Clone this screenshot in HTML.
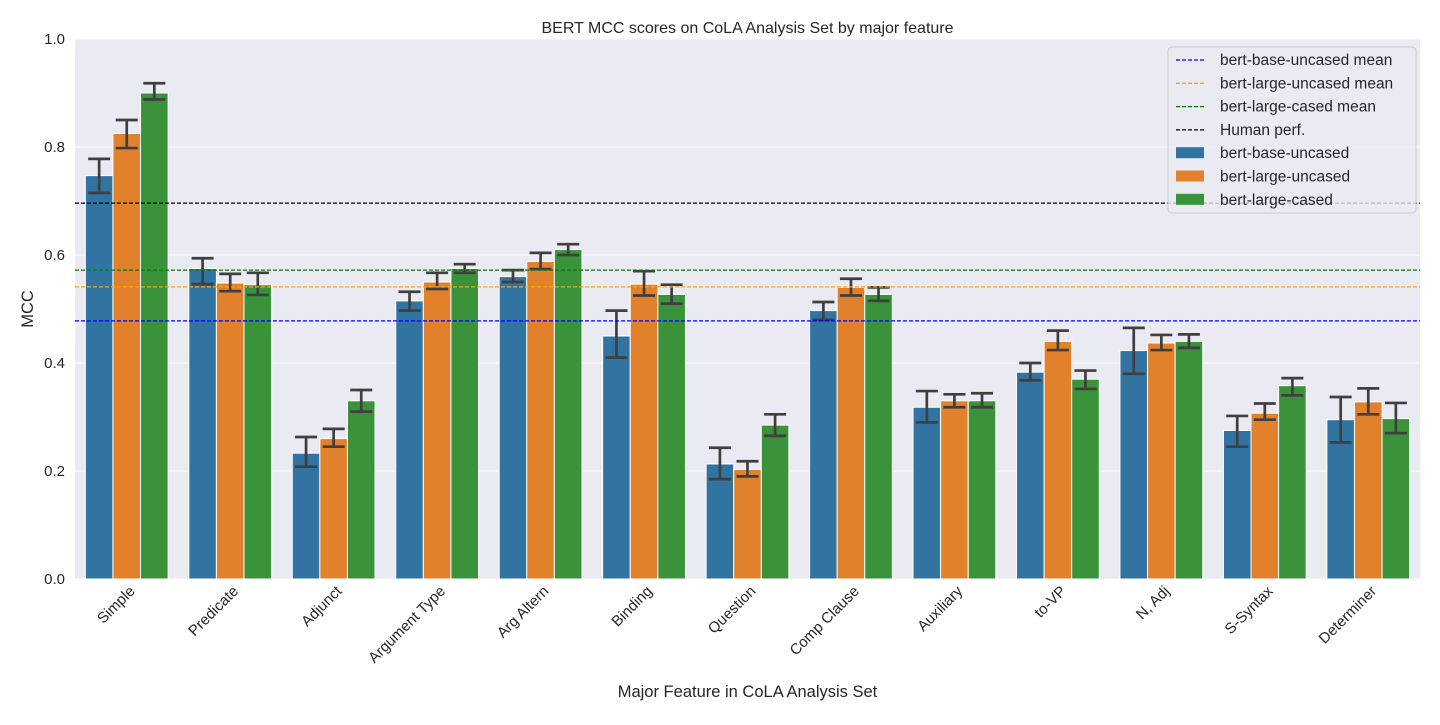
<!DOCTYPE html>
<html><head><meta charset="utf-8"><style>
body{margin:0;background:#fff;font-family:"Liberation Sans","DejaVu Sans",sans-serif;}
svg text{font-family:"Liberation Sans","DejaVu Sans",sans-serif;}
</style></head><body>
<svg id="chart" width="1440" height="720"></svg>
<script>
const categories=["Simple","Predicate","Adjunct","Argument Type","Arg Altern","Binding","Question","Comp Clause","Auxiliary","to-VP","N, Adj","S-Syntax","Determiner"];
const seriesNames=["bert-base-uncased","bert-large-uncased","bert-large-cased"];
const baseVals=[0.747,0.575,0.233,0.515,0.560,0.450,0.213,0.497,0.318,0.383,0.423,0.275,0.295];
const largeUncVals=[0.825,0.548,0.260,0.550,0.588,0.546,0.203,0.540,0.330,0.440,0.437,0.307,0.328];
const largeCasVals=[0.900,0.545,0.330,0.575,0.610,0.527,0.285,0.527,0.330,0.370,0.440,0.358,0.297];
const baseLo=[0.715,0.546,0.208,0.497,0.550,0.410,0.185,0.480,0.290,0.368,0.380,0.245,0.253];
const baseHi=[0.778,0.594,0.263,0.532,0.572,0.497,0.243,0.513,0.348,0.400,0.465,0.302,0.337];
const lucLo=[0.798,0.533,0.245,0.537,0.574,0.525,0.190,0.525,0.318,0.424,0.424,0.295,0.305];
const lucHi=[0.850,0.565,0.278,0.567,0.604,0.570,0.218,0.556,0.342,0.460,0.452,0.325,0.353];
const lcLo=[0.888,0.526,0.310,0.567,0.600,0.510,0.265,0.515,0.318,0.352,0.428,0.340,0.270];
const lcHi=[0.918,0.567,0.350,0.583,0.620,0.545,0.305,0.540,0.344,0.386,0.453,0.372,0.326];
const meanVals=[0.478,0.541,0.572,0.696];
const meanNames=["bert-base-uncased mean","bert-large-uncased mean","bert-large-cased mean","Human perf."];
const yTicks=[0.0,0.2,0.4,0.6,0.8,1.0];

const NS="http://www.w3.org/2000/svg";
const svg=document.getElementById('chart');
const L=75,R=1420,T=39,B=579;
const colors=["#3274a1","#e1812c","#3a923a"];
const meanColors=["blue","orange","green","black"];
function y(v){return B-(v-0)/(1.0-0)*(B-T);}
const band=(R-L)/categories.length;
function xc(i){return L+band*(i+0.5);}
function mk(tag,attrs,parent){const e=document.createElementNS(NS,tag);for(const k in attrs)e.setAttribute(k,attrs[k]);(parent||svg).appendChild(e);return e;}

let e=mk('rect',{x:L,y:T,width:R-L,height:B-T,fill:'#eaeaf2'});


yTicks.forEach(t=>{
  let g=mk('line',{x1:L,x2:R,y1:y(t),y2:y(t),stroke:'#fff','stroke-width':1});
  
  
  let tx=mk('text',{x:L-10,y:y(t)+5,'text-anchor':'end','font-size':15,fill:'#262626'});
  tx.textContent=t.toFixed(1);
  
  
});
const vals=[baseVals,largeUncVals,largeCasVals],los=[baseLo,lucLo,lcLo],his=[baseHi,lucHi,lcHi];
const bw=band*0.8/3;
categories.forEach((c,i)=>{
  for(let s=0;s<3;s++){
    const x0=xc(i)-band*0.4+s*bw;
    let r=mk('rect',{x:x0,y:y(vals[s][i]),width:bw,height:y(0)-y(vals[s][i]),fill:colors[s],stroke:'#fff','stroke-width':1});
    
    
    const cx=x0+bw/2;
    let eb=mk('path',{d:`M${cx},${y(los[s][i])}V${y(his[s][i])}M${cx-11},${y(los[s][i])}H${cx+11}M${cx-11},${y(his[s][i])}H${cx+11}`,stroke:'#3f3f3f','stroke-width':2.7,fill:'none'});
    
    
  }
  const lx=xc(i)+9,ly=B+13;
  let t=mk('text',{x:lx,y:ly,'text-anchor':'end','font-size':15,fill:'#262626',transform:`rotate(-45 ${lx} ${ly})`});
  t.textContent=c;
  
  
});
meanVals.forEach((m,k)=>{
  let l=mk('line',{x1:L,x2:R,y1:y(m),y2:y(m),stroke:meanColors[k],'stroke-width':1.3,'stroke-dasharray':'4,2'});
  
  
});
let lg=mk('g',{});


mk('rect',{x:1168,y:47,width:248,height:166,rx:4,fill:'#eaeaf2','fill-opacity':0.8,stroke:'#ccc'},lg);
const items=meanNames.concat(seriesNames);
items.forEach((n,k)=>{
  const yy=60+k*23.3;
  if(k<4){mk('line',{x1:1176,x2:1204,y1:yy,y2:yy,stroke:meanColors[k],'stroke-width':1.3,'stroke-dasharray':'4,2'},lg);}
  else{mk('rect',{x:1176,y:yy-6,width:28,height:11,fill:colors[k-4]},lg);}
  let t=mk('text',{x:1220,y:yy+5,'font-size':15.5,fill:'#262626'},lg);
  t.textContent=n;
  
  
});
let tt=mk('text',{x:(L+R)/2,y:33,'text-anchor':'middle','font-size':16,fill:'#262626'});
tt.textContent="BERT MCC scores on CoLA Analysis Set by major feature";


let xt=mk('text',{x:(L+R)/2,y:697,'text-anchor':'middle','font-size':16.5,fill:'#262626'});
xt.textContent="Major Feature in CoLA Analysis Set";


let yt=mk('text',{x:33,y:(T+B)/2,'text-anchor':'middle','font-size':16.5,fill:'#262626',transform:`rotate(-90 33 ${(T+B)/2})`});
yt.textContent="MCC";


</script>
</body></html>
